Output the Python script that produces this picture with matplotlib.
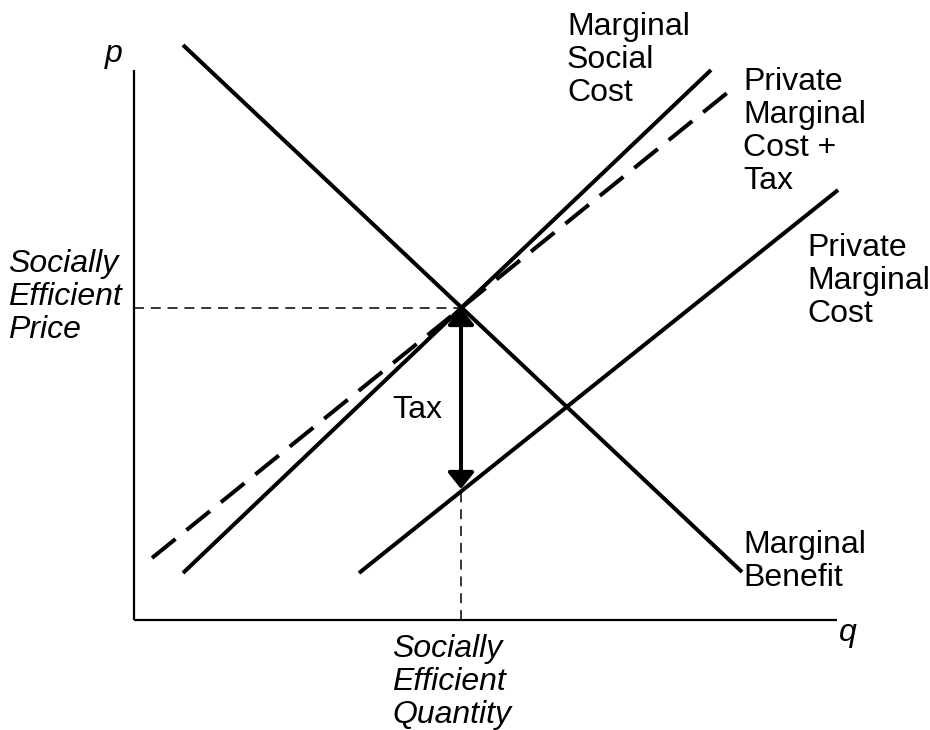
import matplotlib.pyplot as plt

plt.rcParams['font.family'] = ['Liberation Sans', 'DejaVu Sans']

# curve end points (q, p)
mb_q = [4.9, 60.8]
mb_p = [57.5, 4.8]
msc_q = [4.9, 57.7]
msc_p = [4.7, 55.0]
pmc_tax_q = [1.8, 59.3]
pmc_tax_p = [6.2, 52.7]
pmc_q = [22.5, 70.4]
pmc_p = [4.7, 43.0]

# equilibrium and tax
eq_q = 32.7
eq_p = 31.2
pmc_at_eq = 13.1

q_max = 70.3
p_max = 55.0

fig = plt.figure(figsize=(9.3, 7.3), dpi=100)
ax = fig.add_axes([0, 0, 1, 1])
ax.set_xlim(-13.4, 79.6)
ax.set_ylim(-11, 62)
ax.axis('off')

# axes
ax.plot([0, q_max], [0, 0], color='black', lw=1.6, solid_capstyle='butt')
ax.plot([0, 0], [0, p_max], color='black', lw=1.6, solid_capstyle='butt')

# curves
lw = 2.9
ax.plot(mb_q, mb_p, color='black', lw=lw, solid_capstyle='butt')
ax.plot(msc_q, msc_p, color='black', lw=lw, solid_capstyle='butt')
ax.plot(pmc_q, pmc_p, color='black', lw=lw, solid_capstyle='butt')
ax.plot(pmc_tax_q, pmc_tax_p, color='black', lw=lw, dashes=(7.5, 3.5),
        dash_capstyle='butt')

# guide lines
ax.plot([0, eq_q], [eq_p, eq_p], color='black', lw=1.1, dashes=(6.5, 4.5))
ax.plot([eq_q, eq_q], [0, pmc_at_eq], color='black', lw=1.1, dashes=(6.5, 4.5))

# tax arrow
ax.annotate('', xy=(eq_q, pmc_at_eq), xytext=(eq_q, eq_p),
            arrowprops=dict(arrowstyle='<|-|>,head_length=10,head_width=8',
                            mutation_scale=1, lw=2.9, color='black',
                            shrinkA=0, shrinkB=0))

fs = 23
ls = 1.13
ax.text(-2.0, 56.6, 'p', fontsize=fs, style='italic', ha='center', va='center')
ax.text(71.4, -1.3, 'q', fontsize=fs, style='italic', ha='center', va='center')
ax.text(-12.6, 32.3, 'Socially\nEfficient\nPrice', fontsize=fs, style='italic',
        ha='left', va='center', linespacing=ls)
ax.text(25.8, -6.2, 'Socially\nEfficient\nQuantity', fontsize=fs, style='italic',
        ha='left', va='center', linespacing=ls)
ax.text(25.8, 21.0, 'Tax', fontsize=fs, ha='left', va='center')
ax.text(43.3, 56.0, 'Marginal\nSocial\nCost', fontsize=fs, ha='left',
        va='center', linespacing=ls)
ax.text(60.9, 48.85, 'Private\nMarginal\nCost +\nTax', fontsize=fs, ha='left',
        va='center', linespacing=ls)
ax.text(67.3, 33.9, 'Private\nMarginal\nCost', fontsize=fs, ha='left',
        va='center', linespacing=ls)
ax.text(60.9, 5.85, 'Marginal\nBenefit', fontsize=fs, ha='left', va='center',
        linespacing=ls)

fig.savefig('out.png', dpi=100)
